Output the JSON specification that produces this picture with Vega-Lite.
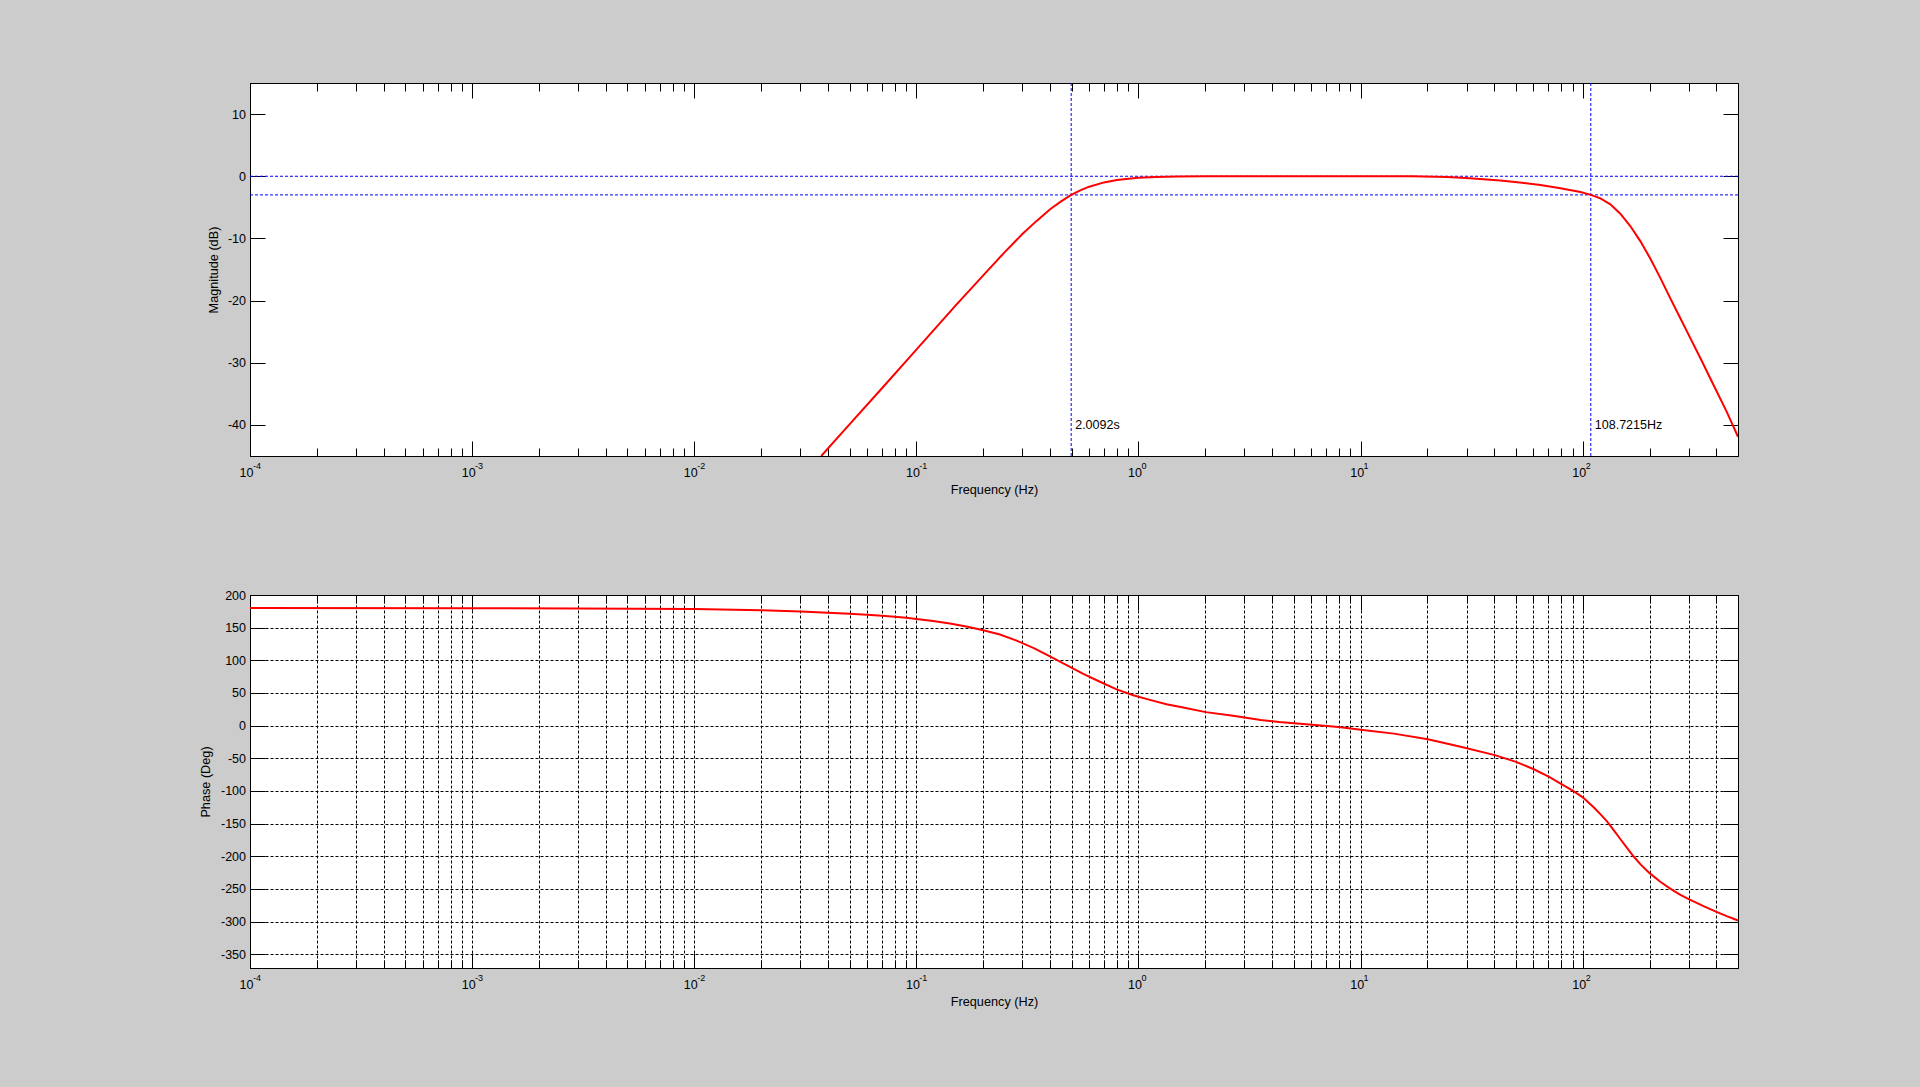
{
  "$schema": "https://vega.github.io/schema/vega-lite/v6.json",
  "background": "#cccccc",
  "padding": {"left": 198, "top": 82, "right": 182, "bottom": 80},
  "bounds": "flush",
  "spacing": 139,
  "config": {
    "view": {"fill": "white", "stroke": "black", "strokeWidth": 1},
    "font": "Liberation Sans",
    "axis": {
      "domainColor": "black", "tickColor": "black", "labelColor": "black", "titleColor": "black",
      "labelFont": "Liberation Sans", "titleFont": "Liberation Sans",
      "labelFontSize": 12.5, "titleFontSize": 12.7, "titleFontWeight": "normal",
      "tickWidth": 1, "domainWidth": 1,
      "gridColor": "black", "gridDash": [3, 2], "gridOpacity": 1, "gridWidth": 1,
      "labelOverlap": false, "labelFlush": false
    }
  },
  "datasets": {
    "mag": [
      {"freq": 0.0373, "db": -45}, {"freq": 0.05, "db": -39.9}, {"freq": 0.07, "db": -34.1},
      {"freq": 0.1, "db": -27.9}, {"freq": 0.15, "db": -20.8}, {"freq": 0.2, "db": -15.95},
      {"freq": 0.25, "db": -12.2}, {"freq": 0.3, "db": -9.3}, {"freq": 0.35, "db": -7.1},
      {"freq": 0.4, "db": -5.3}, {"freq": 0.45, "db": -4.0}, {"freq": 0.4977, "db": -3.0},
      {"freq": 0.55, "db": -2.24}, {"freq": 0.6, "db": -1.68}, {"freq": 0.7, "db": -0.99},
      {"freq": 0.8, "db": -0.61}, {"freq": 0.9, "db": -0.4}, {"freq": 1.0, "db": -0.26},
      {"freq": 1.2, "db": -0.13}, {"freq": 1.5, "db": -0.05}, {"freq": 2, "db": -0.02},
      {"freq": 3, "db": 0}, {"freq": 10, "db": 0}, {"freq": 17, "db": -0.02},
      {"freq": 24.5, "db": -0.11}, {"freq": 31, "db": -0.32}, {"freq": 42.5, "db": -0.7},
      {"freq": 52, "db": -1.02}, {"freq": 64.5, "db": -1.4}, {"freq": 79.4, "db": -1.94},
      {"freq": 97.6, "db": -2.53}, {"freq": 108.72, "db": -3.0}, {"freq": 120.1, "db": -3.55},
      {"freq": 133.2, "db": -4.52}, {"freq": 147.6, "db": -6.02}, {"freq": 163.7, "db": -8.01},
      {"freq": 181.6, "db": -10.43}, {"freq": 201.4, "db": -13.23}, {"freq": 223.4, "db": -16.34},
      {"freq": 247.6, "db": -19.6}, {"freq": 274.7, "db": -22.8}, {"freq": 304.6, "db": -26.0},
      {"freq": 337.9, "db": -29.2}, {"freq": 387, "db": -33.5}, {"freq": 445, "db": -37.9},
      {"freq": 500, "db": -41.9}
    ],
    "phase": [
      {"freq": 0.0001, "deg": 180}, {"freq": 0.001, "deg": 179.8}, {"freq": 0.003, "deg": 179.5},
      {"freq": 0.01, "deg": 178.4}, {"freq": 0.02, "deg": 176.8}, {"freq": 0.03, "deg": 174.6},
      {"freq": 0.04, "deg": 172.9}, {"freq": 0.05, "deg": 171.2}, {"freq": 0.06, "deg": 169.7},
      {"freq": 0.07, "deg": 168.2}, {"freq": 0.08, "deg": 166.7}, {"freq": 0.09, "deg": 165.1},
      {"freq": 0.1, "deg": 163.3}, {"freq": 0.119, "deg": 160.2}, {"freq": 0.1416, "deg": 156.3},
      {"freq": 0.17, "deg": 151.3}, {"freq": 0.2, "deg": 146.0}, {"freq": 0.2378, "deg": 139.6},
      {"freq": 0.2827, "deg": 130.2}, {"freq": 0.336, "deg": 119.2}, {"freq": 0.3993, "deg": 106.1},
      {"freq": 0.4746, "deg": 92.6}, {"freq": 0.5641, "deg": 79.3}, {"freq": 0.6704, "deg": 67.2},
      {"freq": 0.7967, "deg": 55.6}, {"freq": 0.9467, "deg": 46.5}, {"freq": 1.125, "deg": 39.4},
      {"freq": 1.337, "deg": 32.8}, {"freq": 1.589, "deg": 27.8}, {"freq": 2.009, "deg": 20.7},
      {"freq": 2.667, "deg": 15.2}, {"freq": 3.0, "deg": 12.6}, {"freq": 3.55, "deg": 8.8},
      {"freq": 4.3, "deg": 5.6}, {"freq": 5.01, "deg": 3.8}, {"freq": 6.06, "deg": 1.4},
      {"freq": 7.08, "deg": -0.6}, {"freq": 8.13, "deg": -2.6}, {"freq": 10, "deg": -6.1},
      {"freq": 14.11, "deg": -12.2}, {"freq": 20.08, "deg": -20.8}, {"freq": 28.2, "deg": -32.4},
      {"freq": 40.2, "deg": -45.1}, {"freq": 50.1, "deg": -55.5}, {"freq": 60.2, "deg": -66.8},
      {"freq": 70.6, "deg": -78.5}, {"freq": 80.5, "deg": -90.0}, {"freq": 90.2, "deg": -99.5},
      {"freq": 100, "deg": -109.7}, {"freq": 112, "deg": -125}, {"freq": 120, "deg": -135.5},
      {"freq": 128.6, "deg": -146.5}, {"freq": 137.8, "deg": -159.8}, {"freq": 147.6, "deg": -173.5},
      {"freq": 158.2, "deg": -187.2}, {"freq": 169.5, "deg": -200.3}, {"freq": 181.6, "deg": -212.0},
      {"freq": 200, "deg": -225.8}, {"freq": 223.4, "deg": -239.0}, {"freq": 247.6, "deg": -249.5},
      {"freq": 274, "deg": -258.5}, {"freq": 300, "deg": -265.6}, {"freq": 349.7, "deg": -276.3},
      {"freq": 400, "deg": -285.1}, {"freq": 445, "deg": -291.6}, {"freq": 500, "deg": -298.2}
    ],
    "cut": [
      {"freq": 0.4977, "db": -40, "label": "2.0092s"},
      {"freq": 108.7215, "db": -40, "label": "108.7215Hz"}
    ],
    "level": [
      {"db": 0}, {"db": -3}
    ],
    "decades": [
      {"freq": 0.0001, "exp": "-4"}, {"freq": 0.001, "exp": "-3"}, {"freq": 0.01, "exp": "-2"},
      {"freq": 0.1, "exp": "-1"}, {"freq": 1, "exp": "0"}, {"freq": 10, "exp": "1"},
      {"freq": 100, "exp": "2"}
    ]
  },
  "vconcat": [
    {
      "width": 1488,
      "height": 373,
      "resolve": {"axis": {"x": "independent", "y": "independent"}},
      "layer": [
        {
          "data": {"name": "cut"},
          "mark": {"type": "rule", "color": "#0000ff", "strokeDash": [3, 2], "strokeWidth": 1},
          "encoding": {
            "x": {"field": "freq", "type": "quantitative",
              "scale": {"type": "log", "domain": [0.0001, 500], "nice": false},
              "axis": {"orient": "top", "values": [0.0001, 0.001, 0.01, 0.1, 1, 10, 100],
                "tickSize": -15, "labels": false, "title": null, "grid": false}}
          }
        },
        {
          "data": {"name": "level"},
          "mark": {"type": "rule", "color": "#0000ff", "strokeDash": [3, 2], "strokeWidth": 1},
          "encoding": {
            "y": {"field": "db", "type": "quantitative",
              "scale": {"domain": [-45, 15], "nice": false, "zero": false},
              "axis": {"orient": "right", "values": [-40, -30, -20, -10, 0, 10],
                "tickSize": -15, "labels": false, "title": null, "grid": false}}
          }
        },
        {
          "data": {"name": "mag"},
          "mark": {"type": "line", "color": "#ff0000", "strokeWidth": 2, "clip": true},
          "encoding": {
            "x": {"field": "freq", "type": "quantitative",
              "axis": {"orient": "bottom", "values": [0.0001, 0.001, 0.01, 0.1, 1, 10, 100],
                "tickSize": -15, "labelPadding": 31, "labelBaseline": "middle",
                "labelAlign": "right", "labelOffset": 3, "labelExpr": "'10'",
                "title": "Frequency (Hz)", "titleY": 33, "titleBaseline": "middle", "grid": false}},
            "y": {"field": "db", "type": "quantitative",
              "axis": {"orient": "left", "values": [-40, -30, -20, -10, 0, 10],
                "tickSize": -15, "labelPadding": 19.5, "labelExpr": "datum.value + ''",
                "title": "Magnitude (dB)", "titleX": -37, "titleY": 186.5, "titleBaseline": "middle",
                "grid": false}}
          }
        },
        {
          "data": {"name": "cut"},
          "mark": {"type": "text", "align": "left", "baseline": "middle", "dx": 4,
            "font": "Liberation Sans", "fontSize": 12.5, "color": "black"},
          "encoding": {
            "x": {"field": "freq", "type": "quantitative",
              "axis": {"orient": "bottom",
                "values": [0.0002, 0.0003, 0.0004, 0.0005, 0.0006, 0.0007, 0.0008, 0.0009,
                  0.002, 0.003, 0.004, 0.005, 0.006, 0.007, 0.008, 0.009,
                  0.02, 0.03, 0.04, 0.05, 0.06, 0.07, 0.08, 0.09,
                  0.2, 0.3, 0.4, 0.5, 0.6, 0.7, 0.8, 0.9,
                  2, 3, 4, 5, 6, 7, 8, 9, 20, 30, 40, 50, 60, 70, 80, 90, 200, 300, 400],
                "tickSize": -8, "labels": false, "domain": false, "title": null, "grid": false}},
            "y": {"field": "db", "type": "quantitative", "axis": null},
            "text": {"field": "label"}
          }
        },
        {
          "data": {"name": "mag"},
          "mark": {"type": "point", "opacity": 0},
          "encoding": {
            "x": {"field": "freq", "type": "quantitative",
              "axis": {"orient": "top",
                "values": [0.0002, 0.0003, 0.0004, 0.0005, 0.0006, 0.0007, 0.0008, 0.0009,
                  0.002, 0.003, 0.004, 0.005, 0.006, 0.007, 0.008, 0.009,
                  0.02, 0.03, 0.04, 0.05, 0.06, 0.07, 0.08, 0.09,
                  0.2, 0.3, 0.4, 0.5, 0.6, 0.7, 0.8, 0.9,
                  2, 3, 4, 5, 6, 7, 8, 9, 20, 30, 40, 50, 60, 70, 80, 90, 200, 300, 400],
                "tickSize": -8, "labels": false, "domain": false, "title": null, "grid": false}},
            "y": {"field": "db", "type": "quantitative", "axis": null}
          }
        },
        {
          "data": {"name": "decades"},
          "mark": {"type": "text", "align": "left", "baseline": "middle", "dx": 3, "dy": 10,
            "font": "Liberation Sans", "fontSize": 9, "color": "black"},
          "encoding": {
            "x": {"field": "freq", "type": "quantitative", "axis": null},
            "y": {"datum": -45, "type": "quantitative", "axis": null},
            "text": {"field": "exp"}
          }
        }
      ]
    },
    {
      "width": 1488,
      "height": 373,
      "resolve": {"axis": {"x": "independent", "y": "independent"}},
      "layer": [
        {
          "data": {"name": "phase"},
          "mark": {"type": "line", "color": "#ff0000", "strokeWidth": 2, "clip": true},
          "encoding": {
            "x": {"field": "freq", "type": "quantitative",
              "scale": {"type": "log", "domain": [0.0001, 500], "nice": false},
              "axis": {"orient": "bottom", "values": [0.0001, 0.001, 0.01, 0.1, 1, 10, 100],
                "tickSize": -15, "labelPadding": 31, "labelBaseline": "middle",
                "labelAlign": "right", "labelOffset": 3, "labelExpr": "'10'",
                "title": "Frequency (Hz)", "titleY": 33, "titleBaseline": "middle", "grid": true}},
            "y": {"field": "deg", "type": "quantitative",
              "scale": {"domain": [-371, 200], "nice": false, "zero": false},
              "axis": {"orient": "left", "values": [-350, -300, -250, -200, -150, -100, -50, 0, 50, 100, 150, 200],
                "tickSize": -15, "labelPadding": 19.5, "labelExpr": "datum.value + ''",
                "title": "Phase (Deg)", "titleX": -45, "titleY": 186.5, "titleBaseline": "middle",
                "grid": true}}
          }
        },
        {
          "data": {"name": "phase"},
          "mark": {"type": "point", "opacity": 0},
          "encoding": {
            "x": {"field": "freq", "type": "quantitative",
              "axis": {"orient": "bottom",
                "values": [0.0002, 0.0003, 0.0004, 0.0005, 0.0006, 0.0007, 0.0008, 0.0009,
                  0.002, 0.003, 0.004, 0.005, 0.006, 0.007, 0.008, 0.009,
                  0.02, 0.03, 0.04, 0.05, 0.06, 0.07, 0.08, 0.09,
                  0.2, 0.3, 0.4, 0.5, 0.6, 0.7, 0.8, 0.9,
                  2, 3, 4, 5, 6, 7, 8, 9, 20, 30, 40, 50, 60, 70, 80, 90, 200, 300, 400],
                "tickSize": -8, "labels": false, "domain": false, "title": null, "grid": true}},
            "y": {"field": "deg", "type": "quantitative",
              "axis": {"orient": "right", "values": [-350, -300, -250, -200, -150, -100, -50, 0, 50, 100, 150, 200],
                "tickSize": -15, "labels": false, "title": null, "grid": false}}
          }
        },
        {
          "data": {"name": "phase"},
          "mark": {"type": "point", "opacity": 0},
          "encoding": {
            "x": {"field": "freq", "type": "quantitative",
              "axis": {"orient": "top", "values": [0.0001, 0.001, 0.01, 0.1, 1, 10, 100],
                "tickSize": -15, "labels": false, "title": null, "grid": false}},
            "y": {"field": "deg", "type": "quantitative", "axis": null}
          }
        },
        {
          "data": {"name": "phase"},
          "mark": {"type": "point", "opacity": 0},
          "encoding": {
            "x": {"field": "freq", "type": "quantitative",
              "axis": {"orient": "top",
                "values": [0.0002, 0.0003, 0.0004, 0.0005, 0.0006, 0.0007, 0.0008, 0.0009,
                  0.002, 0.003, 0.004, 0.005, 0.006, 0.007, 0.008, 0.009,
                  0.02, 0.03, 0.04, 0.05, 0.06, 0.07, 0.08, 0.09,
                  0.2, 0.3, 0.4, 0.5, 0.6, 0.7, 0.8, 0.9,
                  2, 3, 4, 5, 6, 7, 8, 9, 20, 30, 40, 50, 60, 70, 80, 90, 200, 300, 400],
                "tickSize": -8, "labels": false, "domain": false, "title": null, "grid": false}},
            "y": {"field": "deg", "type": "quantitative", "axis": null}
          }
        },
        {
          "data": {"name": "decades"},
          "mark": {"type": "text", "align": "left", "baseline": "middle", "dx": 3, "dy": 10,
            "font": "Liberation Sans", "fontSize": 9, "color": "black"},
          "encoding": {
            "x": {"field": "freq", "type": "quantitative", "axis": null},
            "y": {"datum": -371, "type": "quantitative", "axis": null},
            "text": {"field": "exp"}
          }
        }
      ]
    }
  ]
}
